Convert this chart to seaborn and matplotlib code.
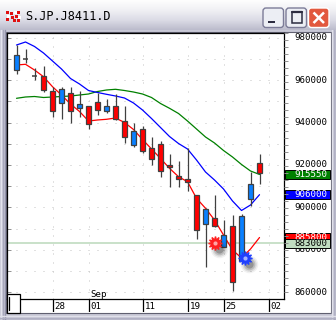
import numpy as np
import pandas as pd
import matplotlib
matplotlib.use("Agg")
import matplotlib.pyplot as plt
import seaborn as sns
from matplotlib import transforms
from matplotlib.patches import Rectangle, FancyBboxPatch
from matplotlib.colors import LinearSegmentedColormap

# ---------------- data ----------------
title = "S.JP.J8411.D"
dates = ["2006-08-22", "2006-08-23", "2006-08-24", "2006-08-25", "2006-08-28",
         "2006-08-29", "2006-08-30", "2006-08-31", "2006-09-01", "2006-09-04",
         "2006-09-05", "2006-09-06", "2006-09-07", "2006-09-08", "2006-09-11",
         "2006-09-12", "2006-09-13", "2006-09-14", "2006-09-15", "2006-09-19",
         "2006-09-20", "2006-09-21", "2006-09-22", "2006-09-25", "2006-09-26",
         "2006-09-27", "2006-09-28", "2006-09-29"]
next_session = ["2006-10-02"]
opens = [964800, 969800, 962000, 962000, 954900, 949400, 954100, 946800, 947800, 949800,
         945600, 947800, 940900, 929600, 936800, 927900, 929900, 920000, 915000, 913300,
         905800, 892000, 894900, 881100, 891200, 874900, 903800, 920800]
highs = [976600, 974700, 965600, 966700, 956900, 956700, 956700, 954900, 947800, 954100,
         951100, 953600, 947800, 940000, 938400, 933100, 931300, 925200, 922000, 927900,
         905900, 899800, 905800, 894100, 896600, 896800, 916800, 925200]
lows = [962800, 968000, 960100, 954600, 942800, 941700, 939700, 942800, 936800, 943600,
        944700, 941400, 930200, 928600, 925800, 920000, 914500, 909800, 909800, 907800,
        884900, 872000, 890600, 881100, 860700, 874900, 900700, 910900]
closes = [971900, 969800, 962000, 955400, 945600, 955700, 945600, 948800, 939300, 945800,
          947800, 941500, 933300, 936200, 926700, 922700, 917300, 918900, 913400, 911800,
          889300, 899100, 891200, 887000, 865000, 895900, 910900, 916100]
ma_short = [967170, 967500, 964810, 961650, 956930, 953020, 948770, 945240, 940750, 941230,
            941560, 942170, 940050, 936750, 932030, 927550, 923070, 918440, 914480, 912120,
            904290, 899580, 894060, 886980, 879910, 876130, 880380, 885800]
ma_mid = [976600, 978020, 975900, 972830, 969060, 965280, 960800, 958210, 955140, 954200,
          953350, 952550, 951600, 949250, 945940, 941930, 937690, 933440, 930140, 927550,
          922360, 916700, 912920, 908680, 903020, 898540, 901130, 906000]
ma_long = [951460, 952080, 952310, 951840, 952080, 952310, 952550, 953020, 953490, 954670,
           955380, 955710, 955140, 954430, 953490, 951840, 949010, 946750, 944290, 940750,
           936980, 933210, 930380, 926840, 923770, 920240, 917170, 915550]
price_ticks = [980000, 960000, 940000, 920000, 900000, 880000, 860000]
date_ticks = ["2006-08-28", "2006-09-01", "2006-09-11", "2006-09-19", "2006-09-25", "2006-10-02"]
date_tick_labels = ["28", "01", "11", "19", "25", "02"]
month_tick = "2006-09-01"
month_label = "Sep"
level_line = 883000
value_tags = [915550, 906000, 885800, 883000]
value_tag_colors = ["#008000", "#0000ff", "#ff0000", "#c0dcc0"]
value_tag_text = ["white", "white", "white", "black"]
signal_x = [22.06, 25.4]
signal_y = [883200, 876000]
signal_colors = ["#ff2020", "#2040ff"]

# ---------------- figure ----------------
sns.set_theme(style="white")
plt.rcParams["font.family"] = ["DejaVu Sans Mono", "DejaVu Sans"]
W, H = 336, 320
fig = plt.figure(figsize=(W / 100, H / 100), dpi=100)
fig.patch.set_facecolor("#c6c6d4")

# ---- window chrome (pixel coordinates) ----
bg = fig.add_axes([0, 0, 1, 1], zorder=-10)
cmap = LinearSegmentedColormap.from_list("t", ["#fefefe", "#f0f0f4", "#dcdce6", "#bcbccc"])
bg.imshow(np.linspace(0, 1, 60)[:, None], extent=(0, W, 30, 0), aspect="auto",
          cmap=cmap, interpolation="bilinear")
bg.add_patch(Rectangle((0, 30), W, H - 30, color="#c8c8d6", lw=0))
for xx, c in [(0.5, "#e4e4ee"), (2.5, "#a8a8bc"), (4.5, "#9494ac"),
              (W - 0.5, "#8a8aa2"), (W - 2.5, "#b0b0c4"), (W - 4.5, "#e0e0ea")]:
    bg.plot([xx, xx], [30, H], color=c, lw=1.0)
for yy, c in [(H - 0.5, "#8a8aa2"), (H - 2.5, "#b0b0c4"), (H - 4.5, "#e0e0ea")]:
    bg.plot([0, W], [yy, yy], color=c, lw=1.0)
bg.add_patch(Rectangle((6, 31.5), 325, 281.5, facecolor="white", edgecolor="#606070", lw=0.8))
# icon
for (ix, iy, c) in [(6, 11, "#e01010"), (10, 12, "#e01010"), (14, 11, "#ffffff"), (17, 11, "#e01010"),
                    (7, 15, "#ffffff"), (11, 16, "#e01010"), (15, 15, "#e01010"), (18, 16, "#ffffff"),
                    (6, 18, "#e01010"), (13, 19, "#e01010"), (17, 19, "#e01010")]:
    bg.add_patch(Rectangle((ix, iy), 3, 3, color=c, lw=0))
bg.text(25, 16.5, title, fontsize=8.6, color="black", va="center", ha="left",
        family="DejaVu Sans Mono")
# buttons
for x0, face, edge in [(263, "#eceef4", "#7c7c98"), (286, "#eceef4", "#7c7c98"),
                       (308.5, "#e2583e", "#ffffff")]:
    bg.add_patch(FancyBboxPatch((x0, 8), 20.5, 19.5, boxstyle="round,pad=0,rounding_size=3",
                                facecolor=face, edgecolor=edge, lw=1.0))
bg.add_patch(Rectangle((268, 20.5), 7, 2.5, color="#2c2c40", lw=0))
bg.add_patch(Rectangle((291.5, 11.5), 10, 11, facecolor="none", edgecolor="#2c2c40", lw=1.1))
bg.plot([291.5, 301.5], [12.2, 12.2], color="#2c2c40", lw=1.6)
bg.plot([313.5, 324], [12.5, 23], color="white", lw=1.8, solid_capstyle="butt")
bg.plot([324, 313.5], [12.5, 23], color="white", lw=1.8, solid_capstyle="butt")
bg.set_xlim(0, W)
bg.set_ylim(H, 0)
bg.axis("off")

# ---- main price axes ----
ax = fig.add_axes([7 / W, (H - 299) / H, 277 / W, 266 / H], zorder=1)
ax.set_facecolor("white")
n = len(dates)
x = np.arange(n)
o = np.array(opens); c = np.array(closes); hi = np.array(highs); lo = np.array(lows)

sessions = dates + next_session
tick_pos = [sessions.index(d) for d in date_ticks]

ax.set_xlim(-1.056, 29.72)
ax.set_ylim(856792, 982264)

# grid
ax.set_yticks(np.arange(860000, 985000, 10000))
ax.set_xticks(tick_pos)
ax.grid(True, color="#c4c4c4", lw=0.72, linestyle=(0, (1, 8)))
ax.tick_params(axis="y", which="major", left=True, right=False, direction="in",
               length=3, width=0.7, color="#909090", labelleft=False)
ax.tick_params(axis="x", length=0, labelbottom=False)
for s in ax.spines.values():
    s.set_color("black"); s.set_linewidth(0.9)

# level line
ax.axhline(level_line, color="#c0dcc0", lw=1.2, zorder=1.5)

# candles
dark = "#404040"
ax.vlines(x, lo, hi, color=dark, lw=0.9, zorder=3)
body_lo = np.minimum(o, c)
body_h = np.abs(c - o)
is_doji = body_h == 0
colors = np.where(c > o, "#0a80ff", "#ff0000")
ax.bar(x[~is_doji], body_h[~is_doji], bottom=body_lo[~is_doji], width=0.56,
       color=colors[~is_doji], edgecolor=dark, linewidth=0.9, zorder=4)
ax.hlines(c[is_doji], x[is_doji] - 0.3, x[is_doji] + 0.3, color=dark, lw=1.1, zorder=4)

# moving averages via seaborn
ma_df = pd.DataFrame({"x": x, "short": ma_short, "mid": ma_mid, "long": ma_long})
sns.lineplot(data=ma_df, x="x", y="long", color="#008000", lw=0.9, ax=ax, zorder=2.5)
sns.lineplot(data=ma_df, x="x", y="mid", color="#0000ff", lw=0.9, ax=ax, zorder=2.6)
sns.lineplot(data=ma_df, x="x", y="short", color="#ff0000", lw=0.9, ax=ax, zorder=2.7)
ax.set_xlabel(""); ax.set_ylabel("")
ax.set_xlim(-1.056, 29.72)
ax.set_ylim(856792, 982264)

# signal stars with soft shadows
for sx, sy, sc in zip(signal_x, signal_y, signal_colors):
    for k, (sz, al) in enumerate([(160, 0.06), (110, 0.10), (70, 0.16), (35, 0.25)]):
        sh = transforms.offset_copy(ax.transData, fig=fig, x=4, y=-6, units="dots")
        ax.scatter([sx], [sy], s=sz, color="#202020", alpha=al, lw=0, transform=sh, zorder=5)
    ax.plot([sx], [sy], marker=(12, 1, 0), ms=10, color=sc, mec=sc, zorder=6)
    ax.plot([sx], [sy], marker="o", ms=3, color="white", alpha=0.6, mec="none", zorder=7)

# month label
ax.text(tick_pos[date_ticks.index(month_tick)] + 0.2, 0.016, month_label,
        transform=transforms.blended_transform_factory(ax.transData, ax.transAxes),
        fontsize=6.6, ha="left", va="center", color="black")

# right-side price ticks (outward minor marks)
ax2 = ax.twinx()
ax2.set_ylim(ax.get_ylim())
ax2.set_yticks(np.arange(860000, 985000, 20000 / 6))
ax2.tick_params(axis="y", right=True, direction="out", length=3, width=0.7,
                color="#909090", labelright=False)
ax2.grid(False)
for s in ax2.spines.values():
    s.set_visible(False)

# right-side labels
rt = transforms.blended_transform_factory(fig.transFigure, ax.transData)
for v in price_ticks:
    ax.text(327.5 / W, v, f"{v}", transform=rt, fontsize=6.6, ha="right", va="center",
            color="black", clip_on=False, zorder=8)
px_per_unit = 266 / (982264 - 856792)
tag_h = 9 / px_per_unit
for v, fc, tc in zip(value_tags, value_tag_colors, value_tag_text):
    ax.add_patch(Rectangle((285 / W, v - tag_h / 2), 45 / W, tag_h, transform=rt,
                           facecolor=fc, edgecolor="black", lw=0.7, clip_on=False, zorder=9))
    ax.text(327.5 / W, v, f"{v}", transform=rt, fontsize=6.6, ha="right", va="center",
            color=tc, clip_on=False, zorder=10)

# ---- date strip ----
dax = fig.add_axes([7 / W, (H - 312) / H, 277 / W, 13 / H], zorder=1)
dax.set_facecolor("white")
dax.set_xlim(ax.get_xlim())
dax.set_ylim(0, 1)
dax.vlines(tick_pos, 0, 1, color="black", lw=0.9)
for p, lab in zip(tick_pos, date_tick_labels):
    dax.text(p + 0.25, 0.45, lab, fontsize=6.6, ha="left", va="center", color="black")
dax.axis("off")

# ---- foreground bits (scroll box) ----
fg = fig.add_axes([0, 0, 1, 1], zorder=20)
fg.set_xlim(0, W); fg.set_ylim(H, 0); fg.axis("off")
fg.patch.set_alpha(0)
fg.add_patch(Rectangle((7, 293.5), 12.5, 19, facecolor="white", edgecolor="black", lw=0.9))
fg.plot([9.2, 9.2], [297, 309.5], color="black", lw=0.9)

fig.savefig("out.png", dpi=100, facecolor=fig.get_facecolor())
